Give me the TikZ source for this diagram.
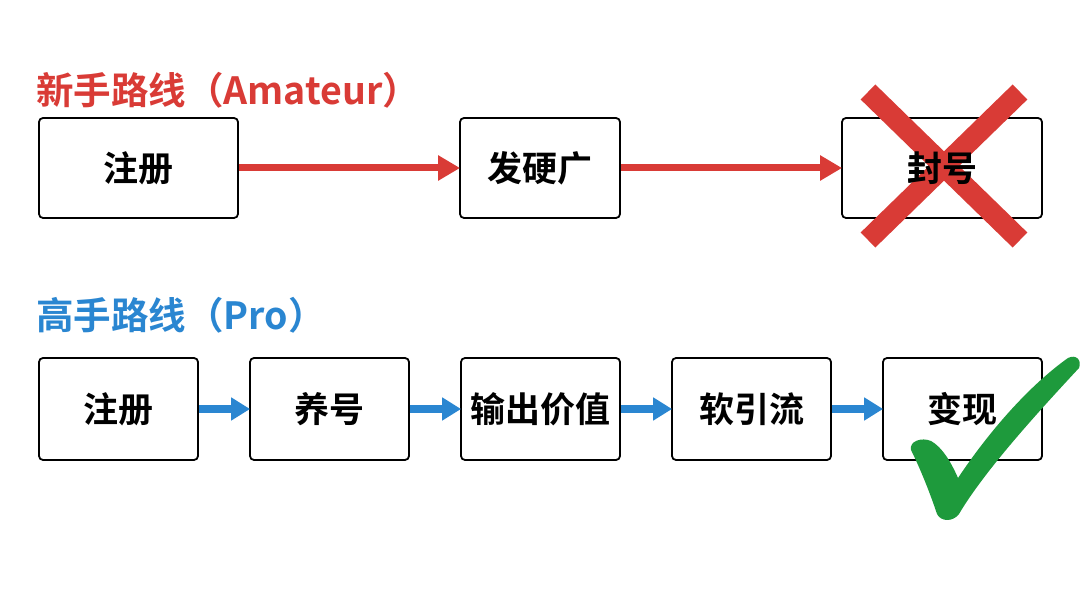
\documentclass[tikz,border=0pt]{standalone}
\usepackage{fontspec}
\newfontfamily\cjk{Noto Sans CJK SC}[BoldFont={Noto Sans CJK SC Bold}]
\usetikzlibrary{arrows.meta}
\definecolor{myred}{HTML}{D93B36}
\definecolor{myblue}{HTML}{2A86D1}
\definecolor{mygreen}{HTML}{1E9A3C}
\tikzset{
  boxfont/.style={font=\cjk\bfseries\fontsize{35}{38}\selectfont},
  box/.style={draw=black, line width=1.8pt, rounded corners=4pt, fill=white, inner sep=0pt, boxfont},
  redarr/.style={draw=myred, line width=7pt, -{Triangle[length=22pt,width=24pt]}, shorten >=-1pt},
  bluearr/.style={draw=myblue, line width=8pt, -{Triangle[length=19pt,width=22pt]}, shorten >=-1pt},
  title/.style={anchor=west, inner sep=0pt, font=\cjk\bfseries\fontsize{37.5}{40}\selectfont},
}
\begin{document}
\begin{tikzpicture}[x=1pt,y=-1pt]
\useasboundingbox (0,0) rectangle (1080,601);
\fill[white] (0,0) rectangle (1080,601);
% titles
\node[title, text=myred] (t1) at (36,90) {新手路线（Amateur）};
\node[title, text=myblue] (t2) at (36,315) {高手路线（Pro）};
% top row
\node[box, minimum width=199pt, minimum height=100pt] (a1) at (138.5,168) {注册};
\node[box, minimum width=160pt, minimum height=100pt] (a2) at (540,168) {发硬广};
\node[box, minimum width=200pt, minimum height=100pt] (a3) at (942,168) {封号};
\draw[redarr] (a1.east) -- (a2.west);
\draw[redarr] (a2.east) -- (a3.west);
% big X
\coordinate (x1) at (868,92);
\coordinate (x2) at (1020,240);
\coordinate (x3) at (1020,92);
\coordinate (x4) at (868,240);
\draw[myred, line width=21pt] (x1) -- (x2);
\draw[myred, line width=21pt] (x3) -- (x4);
\node[inner sep=0pt, boxfont] at (a3) {封号};
% bottom row
\node[box, minimum width=159pt, minimum height=102pt] (b1) at (118.5,409) {注册};
\node[box, minimum width=159pt, minimum height=102pt] (b2) at (329.5,409) {养号};
\node[box, minimum width=159pt, minimum height=102pt] (b3) at (540.5,409) {输出价值};
\node[box, minimum width=159pt, minimum height=102pt] (b4) at (751.5,409) {软引流};
\node[box, minimum width=159pt, minimum height=102pt] (b5) at (962.5,409) {变现};
\draw[bluearr] (b1.east) -- (b2.west);
\draw[bluearr] (b2.east) -- (b3.west);
\draw[bluearr] (b3.east) -- (b4.west);
\draw[bluearr] (b4.east) -- (b5.west);
% check mark
\fill[mygreen] (911,450) .. controls (909,441) and (922,437) .. (931,441)
  .. controls (942,447) and (951,462) .. (958,478)
  .. controls (990,430) and (1030,385) .. (1068,358)
  .. controls (1076,354) and (1082,360) .. (1079,368)
  .. controls (1040,410) and (985,470) .. (959,514)
  .. controls (953,522) and (941,522) .. (937,514)
  .. controls (929,490) and (919,466) .. (911,450) -- cycle;
\end{tikzpicture}
\end{document}
